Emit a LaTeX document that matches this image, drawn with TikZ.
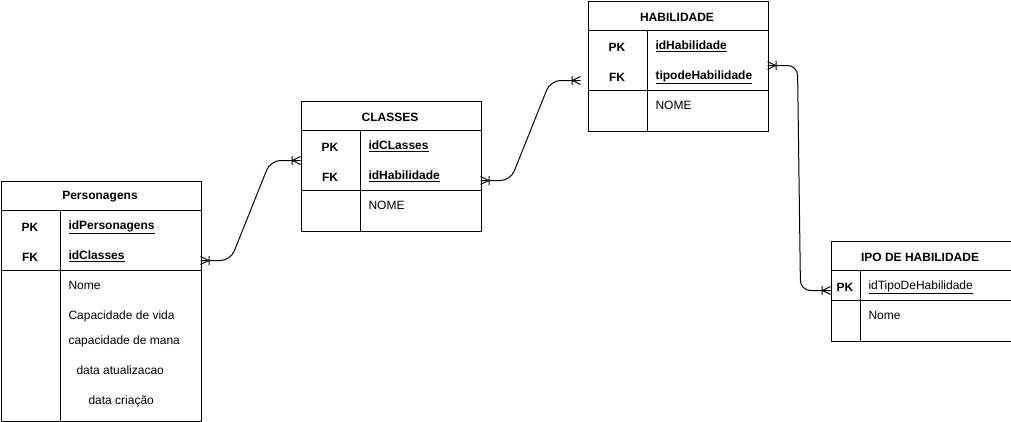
\documentclass[tikz,border=0pt]{standalone}
\usepackage{fontspec}
\setmainfont{Liberation Sans}
\begin{document}
\begin{tikzpicture}[x=1pt,y=-1pt,line width=1pt,
  every node/.style={font=\fontsize{12}{14}\selectfont,inner sep=0pt},
  tbl/.style={draw,anchor=north west,minimum width=#1,inner sep=0pt},
  txt/.style={yshift=-2pt},
  ttl/.style={txt,font=\fontsize{12}{14}\selectfont\bfseries},
  key/.style={txt,font=\fontsize{12}{14}\selectfont\bfseries},
  kfld/.style={txt,anchor=mid west,font=\fontsize{12}{14}\selectfont\bfseries},
  fld/.style={txt,anchor=mid west},
  rel/.style={line width=1pt,rounded corners=10pt},
  crow/.pic={\draw[line width=1pt] (0,-4) -- (8,0) -- (0,4) (8.5,-4.5) -- (8.5,4.5);}
]
\useasboundingbox (0,0) rectangle (1011,421);

% ---------- Personagens ----------
\node[tbl=200pt,minimum height=240pt] (pers) at (0.5,180.5) {};
\draw (0.5,210.5) -- (200.5,210.5) (0.5,270.5) -- (200.5,270.5) (60.5,210.5) -- (60.5,420.5);
\node[ttl] (persT) at (100,195) {Personagens};
\node[key] (persPK) at (30,225) {PK};
\node[kfld] (persK1) at (68,225) {\underline{idPersonagens}};
\node[key] (persFK) at (30,255) {FK};
\node[kfld] (persK2) at (68,255) {\underline{idClasses}};
\node[fld] (persA1) at (68,285) {Nome};
\node[fld] (persA2) at (68,315) {Capacidade de vida};
\node[fld] (persA3) at (68,340) {capacidade de mana};
\node[fld] (persA4) at (76,370) {data atualizacao};
\node[fld] (persA5) at (88,400) {data criação};

% ---------- CLASSES ----------
\node[tbl=180pt,minimum height=130pt] (cls) at (300.5,100.5) {};
\draw (300.5,130.5) -- (480.5,130.5) (300.5,190.5) -- (480.5,190.5) (360.5,130.5) -- (360.5,230.5);
\node[ttl] (clsT) at (390,115) {CLASSES};
\node[key] (clsPK) at (330,145) {PK};
\node[kfld] (clsK1) at (368,145) {\underline{idCLasses}};
\node[key] (clsFK) at (330,175) {FK};
\node[kfld] (clsK2) at (368,175) {\underline{idHabilidade}};
\node[fld] (clsA1) at (368,205) {NOME};

% ---------- HABILIDADE ----------
\node[tbl=180pt,minimum height=130pt] (hab) at (587.5,0.5) {};
\draw (587.5,30.5) -- (767.5,30.5) (587.5,90.5) -- (767.5,90.5) (647.5,30.5) -- (647.5,130.5);
\node[ttl] (habT) at (677,15) {HABILIDADE};
\node[key] (habPK) at (617,45) {PK};
\node[kfld] (habK1) at (655,45) {\underline{idHabilidade}};
\node[key] (habFK) at (617,75) {FK};
\node[kfld] (habK2) at (655,75) {\underline{tipodeHabilidade}};
\node[fld] (habA1) at (655,105) {NOME};

% ---------- IPO DE HABILIDADE ----------
\node[tbl=180pt,minimum height=100pt] (tipo) at (830.5,240.5) {};
\draw (830.5,270.5) -- (1010.5,270.5) (830.5,300.5) -- (1010.5,300.5) (860.5,270.5) -- (860.5,340.5);
\node[ttl] (tipoT) at (920,255) {IPO DE HABILIDADE};
\node[key] (tipoPK) at (845,285) {PK};
\node[fld] (tipoK1) at (868,285) {\underline{idTipoDeHabilidade}};
\node[fld] (tipoA1) at (868,315) {Nome};

% ---------- connection points ----------
\coordinate (persOut) at (200.5,260.5);
\coordinate (clsIn) at (300.5,160.5);
\coordinate (clsOut) at (480.5,180.5);
\coordinate (habIn) at (580.5,80.5);
\coordinate (habOut) at (767.5,65.5);
\coordinate (tipoIn) at (830.5,290.5);

% ---------- connectors ----------
\draw[rel] (persOut) -- ++(30,0) -- ([xshift=-30pt]clsIn) -- (clsIn);
\draw[rel] (clsOut) -- ++(30,0) -- ([xshift=-30pt]habIn) -- (habIn);
\draw[rel] (habOut) -- ++(30,0) -- ([xshift=-30pt]tipoIn) -- (tipoIn);

\pic at (persOut) {crow};
\pic[rotate=180] at (clsIn) {crow};
\pic at (clsOut) {crow};
\pic[rotate=180] at (habIn) {crow};
\pic at (habOut) {crow};
\pic[rotate=180] at (tipoIn) {crow};
\end{tikzpicture}
\end{document}
